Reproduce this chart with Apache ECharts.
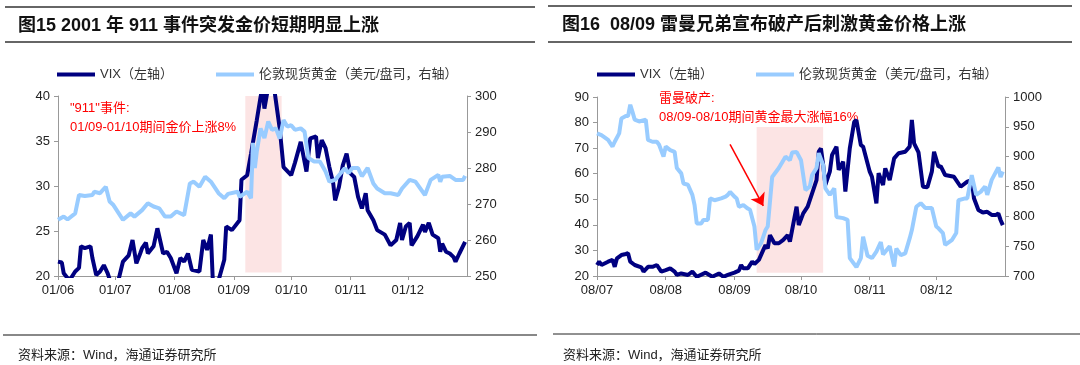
<!DOCTYPE html>
<html><head><meta charset="utf-8">
<script src="https://cdn.jsdelivr.net/npm/echarts@6/dist/echarts.min.js"></script>
<style>html,body{margin:0;padding:0;background:#fff}#c{width:1080px;height:365px}</style>
</head><body><div id="c"></div>
<script>
// ---------- Chart 1 (2001) ----------
const vix01Dates = ['2001-06-01','2001-06-03','2001-06-04','2001-06-05','2001-06-07','2001-06-10','2001-06-12','2001-06-13','2001-06-15','2001-06-18','2001-06-19','2001-06-21','2001-06-23','2001-06-25','2001-06-27','2001-06-29','2001-07-02','2001-07-05','2001-07-08','2001-07-10','2001-07-12','2001-07-14','2001-07-15','2001-07-17','2001-07-18','2001-07-21','2001-07-23','2001-07-26','2001-07-28','2001-07-30','2001-08-02','2001-08-04','2001-08-06','2001-08-08','2001-08-10','2001-08-14','2001-08-16','2001-08-18','2001-08-20','2001-08-21','2001-08-24','2001-08-27','2001-08-28','2001-08-31','2001-09-04','2001-09-05','2001-09-08','2001-09-10','2001-09-13','2001-09-15','2001-09-16','2001-09-17','2001-09-19','2001-09-22','2001-09-25','2001-09-27','2001-10-01','2001-10-03','2001-10-06','2001-10-09','2001-10-11','2001-10-14','2001-10-15','2001-10-17','2001-10-19','2001-10-21','2001-10-23','2001-10-24','2001-10-26','2001-10-28','2001-10-30','2001-11-01','2001-11-03','2001-11-05','2001-11-07','2001-11-09','2001-11-10','2001-11-13','2001-11-15','2001-11-19','2001-11-22','2001-11-25','2001-11-27','2001-11-28','2001-11-30','2001-12-02','2001-12-03','2001-12-06','2001-12-09','2001-12-10','2001-12-12','2001-12-14','2001-12-17','2001-12-18','2001-12-19','2001-12-21','2001-12-23','2001-12-25','2001-12-26','2001-12-28','2001-12-31'];
const vix01 = [21.6,21.5,20.3,20.5,19.5,20.5,20.9,23.3,23.1,23.3,22.0,20.1,20.5,21.2,20.3,19,
  19,21.6,22.3,24.0,21.4,22.5,23.1,23.7,22.5,23.3,25.3,22.5,22.7,22.0,
  20.3,22.0,21.6,22.5,20.7,20.5,24.0,22.9,24.6,19.5,19.5,21.8,25.5,25.1,
  26.2,30.7,31.2,33.6,37.3,39.9,41,38.6,41,41,36.4,32.1,
  31.2,32.6,34.9,31.6,35.3,35.5,33.1,35.1,34.2,32.1,30.3,28.4,29.9,32.3,33.6,
  31.4,31.0,28.8,27.5,29.2,27.3,26.2,25.1,24.6,23.4,24.0,25.9,24.0,25.5,
  25.9,23.4,24.4,25.7,24.9,25.9,24.6,24.2,22.7,23.6,22.7,22.5,22.1,21.6,22.5,23.8];
const gold01Dates = ['2001-06-01','2001-06-04','2001-06-06','2001-06-10','2001-06-12','2001-06-15','2001-06-19','2001-06-20','2001-06-23','2001-06-26','2001-06-28','2001-06-30','2001-07-05','2001-07-09','2001-07-11','2001-07-15','2001-07-18','2001-07-21','2001-07-24','2001-07-27','2001-07-30','2001-08-02','2001-08-06','2001-08-09','2001-08-11','2001-08-14','2001-08-17','2001-08-20','2001-08-24','2001-08-27','2001-08-29','2001-09-03','2001-09-04','2001-09-08','2001-09-10','2001-09-11','2001-09-12','2001-09-13','2001-09-15','2001-09-17','2001-09-19','2001-09-21','2001-09-23','2001-09-25','2001-09-27','2001-09-29','2001-10-01','2001-10-03','2001-10-06','2001-10-08','2001-10-10','2001-10-13','2001-10-16','2001-10-19','2001-10-21','2001-10-24','2001-10-27','2001-10-29','2001-10-31','2001-11-02','2001-11-05','2001-11-07','2001-11-10','2001-11-13','2001-11-15','2001-11-19','2001-11-22','2001-11-26','2001-11-28','2001-12-02','2001-12-05','2001-12-10','2001-12-13','2001-12-17','2001-12-18','2001-12-19','2001-12-23','2001-12-26','2001-12-30','2001-12-31'];
const gold01 = [265.6,266.5,265.7,267.4,272.5,272.2,272.5,273.4,273.0,274.8,270.7,269.7,
  265.6,267.4,266.5,268.3,270.2,269.3,268.8,266.5,266.5,
  267.9,266.9,275.7,276.2,274.8,277.6,276.2,273.0,271.6,272.8,
  273.4,272.0,273.4,271.6,287,280,284.5,291,288.3,292.9,290.6,291,288.2,293.3,291.5,
  291.9,290.6,291,290.1,282.8,281.8,281.8,279,276.2,276.7,278.6,279.9,278.6,
  280,280,277.7,280,275.7,274.3,273,273,272.5,274.3,
  276.7,276.2,272.5,276.7,278.1,276.2,277.6,277.8,276.7,276.7,277.8];
const shade01 = ['2001-09-07','2001-09-26'];

// ---------- Chart 2 (2008) ----------
const vix08Dates = ['2008-07-01','2008-07-02','2008-07-03','2008-07-06','2008-07-08','2008-07-09','2008-07-10','2008-07-12','2008-07-14','2008-07-15','2008-07-16','2008-07-18','2008-07-21','2008-07-22','2008-07-24','2008-07-26','2008-07-28','2008-07-30','2008-08-01','2008-08-03','2008-08-05','2008-08-06','2008-08-08','2008-08-11','2008-08-13','2008-08-15','2008-08-19','2008-08-22','2008-08-25','2008-08-27','2008-08-29','2008-09-01','2008-09-03','2008-09-04','2008-09-05','2008-09-07','2008-09-09','2008-09-10','2008-09-12','2008-09-14','2008-09-15','2008-09-16','2008-09-17','2008-09-19','2008-09-21','2008-09-23','2008-09-25','2008-09-26','2008-09-29','2008-09-30','2008-10-02','2008-10-04','2008-10-06','2008-10-08','2008-10-09','2008-10-10','2008-10-11','2008-10-12','2008-10-14','2008-10-15','2008-10-17','2008-10-18','2008-10-20','2008-10-21','2008-10-23','2008-10-25','2008-10-26','2008-10-28','2008-10-29','2008-11-01','2008-11-02','2008-11-04','2008-11-05','2008-11-07','2008-11-08','2008-11-10','2008-11-12','2008-11-14','2008-11-17','2008-11-19','2008-11-20','2008-11-21','2008-11-23','2008-11-25','2008-11-27','2008-11-29','2008-11-30','2008-12-02','2008-12-03','2008-12-05','2008-12-09','2008-12-12','2008-12-15','2008-12-17','2008-12-18','2008-12-20','2008-12-22','2008-12-24','2008-12-26','2008-12-28','2008-12-29','2008-12-30','2008-12-31'];
const vix08 = [24.3,25.6,24.3,25.6,26.3,23.6,26.9,28.2,28.6,28.9,25.6,24.3,23.4,21.7,23.6,23.6,24.3,21.7,
  22.3,23.0,21.7,20.4,21.0,20.4,21.7,19.7,21.3,19.7,21.0,19.7,20.4,
  21.3,22.1,24.3,23.0,23.0,25.6,24.7,26.3,30.2,32.1,30.8,36.0,32.8,32.8,34.1,36.0,33.4,47.1,39.9,
  44.5,47.1,52.3,57.5,68.6,69.9,63.4,55.6,60.8,67.3,70.6,61.5,64.7,53.0,69.9,80.3,81.0,71.2,70.6,
  60.8,58.8,48.4,60.2,55.6,62.1,57.5,66.0,68.0,68.6,70.6,81.0,71.9,68.3,54.9,54.7,60.8,68.6,
  62.7,63.0,59.5,58.8,54.9,56.9,57.5,50.4,45.8,44.8,45.1,43.9,43.9,44.5,41.9,39.9];
const gold08Dates = ['2008-07-01','2008-07-03','2008-07-06','2008-07-08','2008-07-09','2008-07-11','2008-07-12','2008-07-14','2008-07-15','2008-07-16','2008-07-17','2008-07-18','2008-07-20','2008-07-23','2008-07-24','2008-07-26','2008-07-28','2008-07-29','2008-07-31','2008-08-01','2008-08-03','2008-08-05','2008-08-06','2008-08-08','2008-08-09','2008-08-11','2008-08-13','2008-08-14','2008-08-15','2008-08-17','2008-08-18','2008-08-20','2008-08-21','2008-08-23','2008-08-26','2008-08-28','2008-08-29','2008-08-30','2008-09-01','2008-09-02','2008-09-03','2008-09-05','2008-09-07','2008-09-08','2008-09-10','2008-09-11','2008-09-13','2008-09-15','2008-09-16','2008-09-18','2008-09-21','2008-09-24','2008-09-26','2008-09-27','2008-09-29','2008-10-01','2008-10-03','2008-10-05','2008-10-06','2008-10-08','2008-10-09','2008-10-11','2008-10-12','2008-10-14','2008-10-16','2008-10-17','2008-10-20','2008-10-22','2008-10-23','2008-10-26','2008-10-28','2008-10-29','2008-10-31','2008-11-02','2008-11-04','2008-11-06','2008-11-07','2008-11-10','2008-11-12','2008-11-13','2008-11-15','2008-11-17','2008-11-19','2008-11-20','2008-11-22','2008-11-24','2008-11-26','2008-11-29','2008-12-01','2008-12-02','2008-12-04','2008-12-05','2008-12-08','2008-12-10','2008-12-11','2008-12-14','2008-12-15','2008-12-17','2008-12-19','2008-12-21','2008-12-23','2008-12-24','2008-12-26','2008-12-29','2008-12-30','2008-12-31'];
const gold08 = [939,936,928,917,925,939,964,968,968,987,975,962,959,962,928,925,925,920,900,
  917,911,908,881,872,855,853,836,819,788,788,794,794,830,827,830,833,836,841,
  833,830,816,819,813,811,783,744,755,777,783,866,881,900,894,907,908,
  894,844,850,869,881,906,886,847,836,847,799,797,794,730,715,730,766,734,
  730,741,757,736,750,716,746,735,738,763,777,816,822,814,814,
  783,780,772,752,760,772,827,830,830,869,836,841,850,836,861,882,866,875];
const shade08 = ['2008-09-11','2008-10-11'];

const vixName = 'VIX（左轴）';
const goldName = '伦敦现货黄金（美元/盘司，右轴）';
const titles = ['图15 2001 年 911 事件突发金价短期明显上涨', '图16  08/09 雷曼兄弟宣布破产后刺激黄金价格上涨'];
const note1 = ['"911"事件:', '01/09-01/10期间金价上涨8%'];
const note2 = ['雷曼破产:', '08/09-08/10期间黄金最大涨幅16%'];
const source = '资料来源：Wind，海通证券研究所';

const FF = '"Liberation Sans", Arial, "Noto Sans CJK SC", sans-serif';
const NAVY = '#000080', LBLUE = '#99CCFF', AX = '#999999';
const zip = (d, v) => d.map((x, i) => [x, v[i]]);
const monthFmt = v => { const d = new Date(v); return String(d.getFullYear()).slice(2) + '/' + String(d.getMonth() + 1).padStart(2, '0'); };

function xAx(gi, min, max) {
  return { type: 'time', gridIndex: gi, min, max, splitNumber: 7,
    minInterval: 28 * 864e5, maxInterval: 31 * 864e5,
    axisLine: { lineStyle: { color: AX, width: 1 } },
    axisTick: { show: true, length: 4, lineStyle: { color: AX } },
    axisLabel: { formatter: monthFmt, color: '#222', fontSize: 13, fontFamily: FF, margin: 8, showMaxLabel: false, showMinLabel: true },
    splitLine: { show: false } };
}
function yAx(gi, pos, min, max, interval) {
  return { type: 'value', gridIndex: gi, position: pos, min, max, interval,
    axisLine: { show: true, lineStyle: { color: AX, width: 1 } },
    axisTick: { show: true, length: 4, lineStyle: { color: AX } },
    axisLabel: { color: '#222', fontSize: 13, fontFamily: FF, margin: 8, formatter: v => String(v) },
    splitLine: { show: false } };
}
function line(name, xi, yi, data, color, z) {
  return { name, type: 'line', xAxisIndex: xi, yAxisIndex: yi, data, showSymbol: false, symbol: 'none',
    lineStyle: { color, width: 4 }, itemStyle: { color }, z, clip: true, animation: false };
}
function shade(xi, yi, range, y0, y1, extra) {
  const s = { type: 'line', xAxisIndex: xi, yAxisIndex: yi, data: [], z: 5, silent: true, animation: false,
    markArea: { silent: true, itemStyle: { color: 'rgba(240,120,120,0.2)' },
      data: [[{ coord: [range[0], y0] }, { coord: [range[1], y1] }]] } };
  if (extra) s.markLine = extra;
  return s;
}
function txt(x, y, t, opt) {
  return { type: 'text', x, y, silent: true, style: Object.assign({ text: t, fill: '#222', fontSize: 13, fontFamily: FF, verticalAlign: 'middle', textVerticalAlign: 'middle' }, opt || {}) };
}
function hline(x1, x2, y, color, w) {
  return { type: 'line', silent: true, shape: { x1, y1: y, x2, y2: y }, style: { stroke: color, lineWidth: w } };
}

const legItem = (name, left) => ({ data: [name], left, top: 63, icon: 'rect', itemWidth: 38, itemHeight: 4,
  textStyle: { color: '#333', fontSize: 13, fontFamily: FF }, selectedMode: false });

const option = {
  animation: false,
  backgroundColor: '#fff',
  grid: [
    { left: 58, right: 613, top: 96, bottom: 89 },
    { left: 597, right: 75, top: 97, bottom: 89 }
  ],
  legend: [legItem(vixName, 52), legItem(goldName, 211), legItem(vixName, 592), legItem(goldName, 751)],
  xAxis: [xAx(0, '2001-06-01', '2002-01-01'), xAx(1, '2008-07-01', '2009-01-01')],
  yAxis: [yAx(0, 'left', 20, 40, 5), yAx(0, 'right', 250, 300, 10), yAx(1, 'left', 20, 90, 10), yAx(1, 'right', 700, 1000, 50)],
  series: [
    line(vixName, 0, 0, zip(vix01Dates, vix01), NAVY, 2),
    line(goldName, 0, 1, zip(gold01Dates, gold01), LBLUE, 3),
    shade(0, 0, shade01, 20.4, 40),
    line(vixName, 1, 2, zip(vix08Dates, vix08), NAVY, 2),
    line(goldName, 1, 3, zip(gold08Dates, gold08), LBLUE, 3),
    shade(1, 2, shade08, 21.3, 78.3, {
      silent: true, symbol: ['none', 'arrow'], symbolSize: 12, label: { show: false },
      lineStyle: { color: '#FF0000', width: 1.5, type: 'solid' },
      itemStyle: { color: '#FF0000' },
      data: [[{ coord: ['2008-08-30', 71.5] }, { coord: ['2008-09-14', 47.4] }]]
    })
  ],
  graphic: [
    hline(5, 535, 7, '#333', 1.5), hline(5, 535, 42, '#333', 1.5),
    hline(548, 1072, 6, '#333', 1.5), hline(548, 1072, 42, '#333', 1.5),
    txt(18, 26, titles[0], { fontSize: 18, fontWeight: 'bold', fill: '#111' }),
    txt(562, 25, titles[1], { fontSize: 18, fontWeight: 'bold', fill: '#111' }),
    txt(70, 108, note1[0], { fill: '#FF0000' }),
    txt(70, 127, note1[1], { fill: '#FF0000' }),
    txt(659, 98, note2[0], { fill: '#FF0000' }),
    txt(659, 117, note2[1], { fill: '#FF0000' }),
    hline(3, 537, 335, '#888', 2), hline(553, 1080, 334, '#222', 1),
    txt(18, 355, source, { fontSize: 13 }),
    txt(563, 355, source, { fontSize: 13 })
  ]
};
const chart = echarts.init(document.getElementById('c'), null, { renderer: 'canvas' });
chart.setOption(option);
</script></body></html>
